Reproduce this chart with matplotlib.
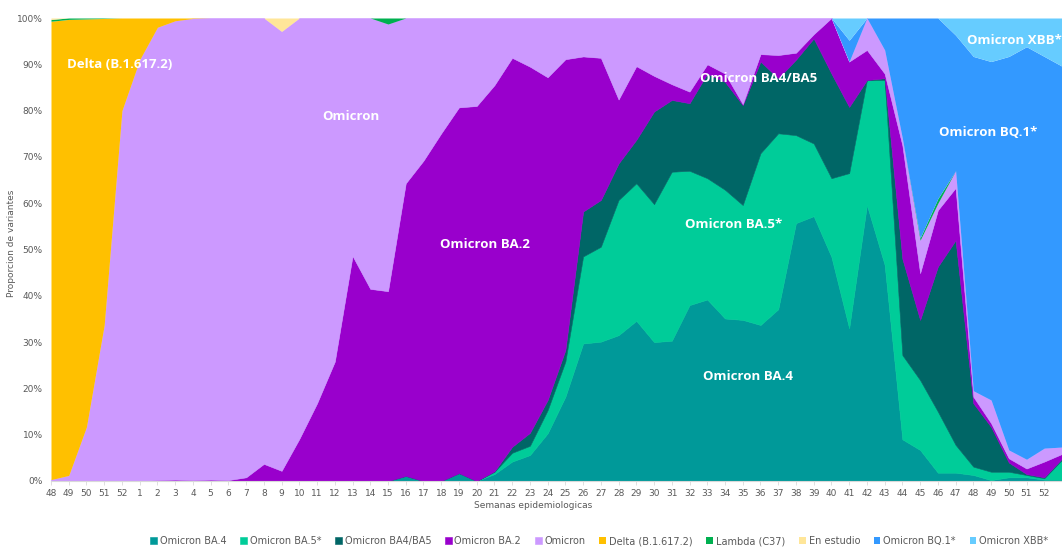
import matplotlib.pyplot as plt
import numpy as np

# epidemiological weeks: 48-52 of 2021, then 1-52 of 2022 (+ first week of 2023, cut by the frame)
weeks = ['48', '49', '50', '51', '52'] + [str(w) for w in range(1, 53)] + ['']

# weekly share of each variant (%)
ba4 = [0, 0, 0, 0, 0, 0, 0, 0, 0, 0, 0, 0, 0, 0, 0, 0, 0, 0, 0, 0,
       1.1, 0, 0, 1.7, 0, 1.5, 4.2, 5.6, 10.3, 18.2, 29.7, 30.1, 31.5, 34.6, 30.0, 30.3,
       38.0, 39.2, 35.1, 34.8, 33.7, 37.1, 55.7, 57.2, 48.4, 33.0, 59.6, 46.7, 9.0, 6.7,
       1.8, 1.8, 1.3, 0.2, 0.8, 0.8, 0.3, 0.3]
ba5 = [0, 0, 0, 0, 0, 0, 0, 0, 0, 0, 0, 0, 0, 0, 0, 0, 0, 0, 0, 0,
       0, 0, 0, 0, 0, 0.5, 1.9, 2.0, 5.0, 7.6, 18.8, 20.5, 29.2, 29.7, 29.8, 36.5,
       29.0, 26.2, 27.8, 24.8, 37.1, 38.0, 19.0, 15.7, 17.0, 33.5, 27.0, 39.9, 18.2, 15.1,
       13.2, 6.0, 1.8, 1.8, 1.2, 0.5, 0.3, 4.3]
ba4_ba5 = [0, 0, 0, 0, 0, 0, 0, 0, 0, 0, 0, 0, 0, 0, 0, 0, 0, 0, 0, 0,
           0, 0, 0, 0, 0, 0.1, 1.3, 2.8, 2.2, 2.5, 9.7, 10.1, 7.9, 9.4, 20.0, 15.5,
           14.6, 22.6, 23.3, 21.6, 19.8, 11.9, 16.3, 22.7, 22.6, 14.3, 0, 0.4, 20.8, 13.0,
           31.3, 44.2, 13.7, 9.7, 2.0, 0.2, 0.2, 0.3]
ba2 = [0, 0, 0, 0, 0, 0, 0.2, 0.3, 0.2, 0.3, 0.2, 0.8, 3.7, 2.2, 9.1, 16.8, 25.8, 48.6, 41.5, 41.0,
       63.2, 69.2, 75.1, 79.0, 81.0, 83.4, 84.0, 79.1, 69.7, 62.8, 33.5, 30.7, 13.8, 15.9, 7.7, 3.4,
       2.5, 2.0, 1.8, 0.2, 1.6, 5.0, 1.5, 0.9, 12.0, 9.8, 6.5, 1.0, 24.5, 10.1,
       12.2, 11.3, 1.4, 0.8, 0.9, 1.2, 3.4, 1.0]
omicron = [0.3, 1.2, 11.7, 33.7, 80.0, 91.0, 97.8, 99.1, 99.7, 99.7, 99.8, 99.2, 96.3, 94.9, 90.9,
           83.2, 74.2, 51.4, 58.5, 57.7, 35.7, 30.8, 24.9, 19.3, 19.0, 14.5, 8.6, 10.5, 12.8, 8.9,
           8.3, 8.6, 17.6, 10.4, 12.5, 14.3, 15.9, 10.0, 12.0, 18.6, 7.8, 8.0, 7.5, 3.5, 0, 0,
           6.9, 5.1, 1.5, 7.1, 1.5, 3.7, 1.3, 5.0, 1.8, 2.0, 2.9, 1.5]
delta = [99.0, 98.4, 88.1, 66.2, 20.0, 9.0, 2.0, 0.6, 0.1] + [0] * 49
lambda_c37 = [0.4, 0.3, 0.2, 0.1] + [0] * 15 + [1.3] + [0] * 29 + [0.5, 1.0] + [0] * 7
en_estudio = [0.3] + [0] * 12 + [2.9] + [0] * 44
bq1 = [0] * 45 + [4.6, 0, 6.9, 26.0, 47.5, 39.0, 29.3, 72.2, 73.1, 85.0, 89.1, 84.6, 83.0]
xbb = [0] * 45 + [4.8, 0, 0, 0, 0, 0, 3.7, 8.3, 9.4, 8.3, 6.2, 8.3, 10.5]

names = ['Omicron BA.4', 'Omicron BA.5*', 'Omicron BA4/BA5', 'Omicron BA.2', 'Omicron',
         'Delta (B.1.617.2)', 'Lambda (C37)', 'En estudio', 'Omicron BQ.1*', 'Omicron XBB*']
colors = ['#009999', '#00CC99', '#006666', '#9900CC', '#CC99FF',
          '#FFC000', '#00B050', '#FFE699', '#3399FF', '#66CCFF']

W, H = 1062, 547
fig = plt.figure(figsize=(W / 100, H / 100), dpi=100)
ax = fig.add_axes([51 / W, 66 / H, 1011 / W, 463 / H])

x = np.arange(len(weeks))
data = np.array([ba4, ba5, ba4_ba5, ba2, omicron, delta, lambda_c37, en_estudio, bq1, xbb], dtype=float)
data = data / data.sum(axis=0)  # 100% stacked

polys = ax.stackplot(x, data, colors=colors, labels=names)
for i, (p, c) in enumerate(zip(polys, colors)):
    # lower layers get a thin same-colour edge to hide seams; upper ones sit on the 100% line
    p.set_edgecolor(c)
    p.set_linewidth(0.4 if i < 5 else 0)

ax.set_xlim(0, 1011 / 17.9)
ax.set_ylim(0, 1)
ax.set_xticks(x)
ax.set_xticklabels(weeks)
ax.set_yticks(np.arange(0, 1.01, 0.1))
ax.set_yticklabels(['{}%'.format(v) for v in range(0, 101, 10)])
ax.tick_params(axis='both', labelsize=6.5, colors='#595959', length=3, width=0.6)
ax.tick_params(axis='y', length=0, pad=6)
ax.tick_params(axis='x', color='#D9D9D9', pad=3)
for s in ['left', 'right', 'top']:
    ax.spines[s].set_visible(False)
ax.spines['bottom'].set_color('#D9D9D9')

fig.text(12 / W, 1 - 243 / H, 'Proporcion de variantes', rotation=90, ha='center', va='center',
         fontsize=6.5, color='#595959')
fig.text(533 / W, 1 - 506 / H, 'Semanas epidemiologicas', ha='center', va='center',
         fontsize=6.5, color='#595959')

# labels inside the areas
lab = dict(color='white', fontsize=9.5, fontweight='bold', family='Open Sans', va='center')
fig.text(67 / W, 1 - 64 / H, 'Delta (B.1.617.2)', ha='left', **lab)
fig.text(351 / W, 1 - 116 / H, 'Omicron', ha='center', **lab)
fig.text(485 / W, 1 - 245 / H, 'Omicron BA.2', ha='center', **lab)
fig.text(759 / W, 1 - 78 / H, 'Omicron BA4/BA5', ha='center', **lab)
fig.text(734 / W, 1 - 224 / H, 'Omicron BA.5*', ha='center', **lab)
fig.text(748 / W, 1 - 377 / H, 'Omicron BA.4', ha='center', **lab)
fig.text(988 / W, 1 - 132 / H, 'Omicron BQ.1*', ha='center', **lab)
fig.text(967 / W, 1 - 40 / H, 'Omicron XBB*', ha='left', **lab)

handles, labels = ax.get_legend_handles_labels()
fig.legend(handles, labels, ncol=10, loc='center left', bbox_to_anchor=(150 / W, 1 - 541 / H),
           frameon=False, fontsize=7, labelcolor='#595959', handlelength=0.7, handleheight=0.7,
           handletextpad=0.3, columnspacing=1.4, borderaxespad=0, borderpad=0)

fig.savefig('out.png', dpi=100)
